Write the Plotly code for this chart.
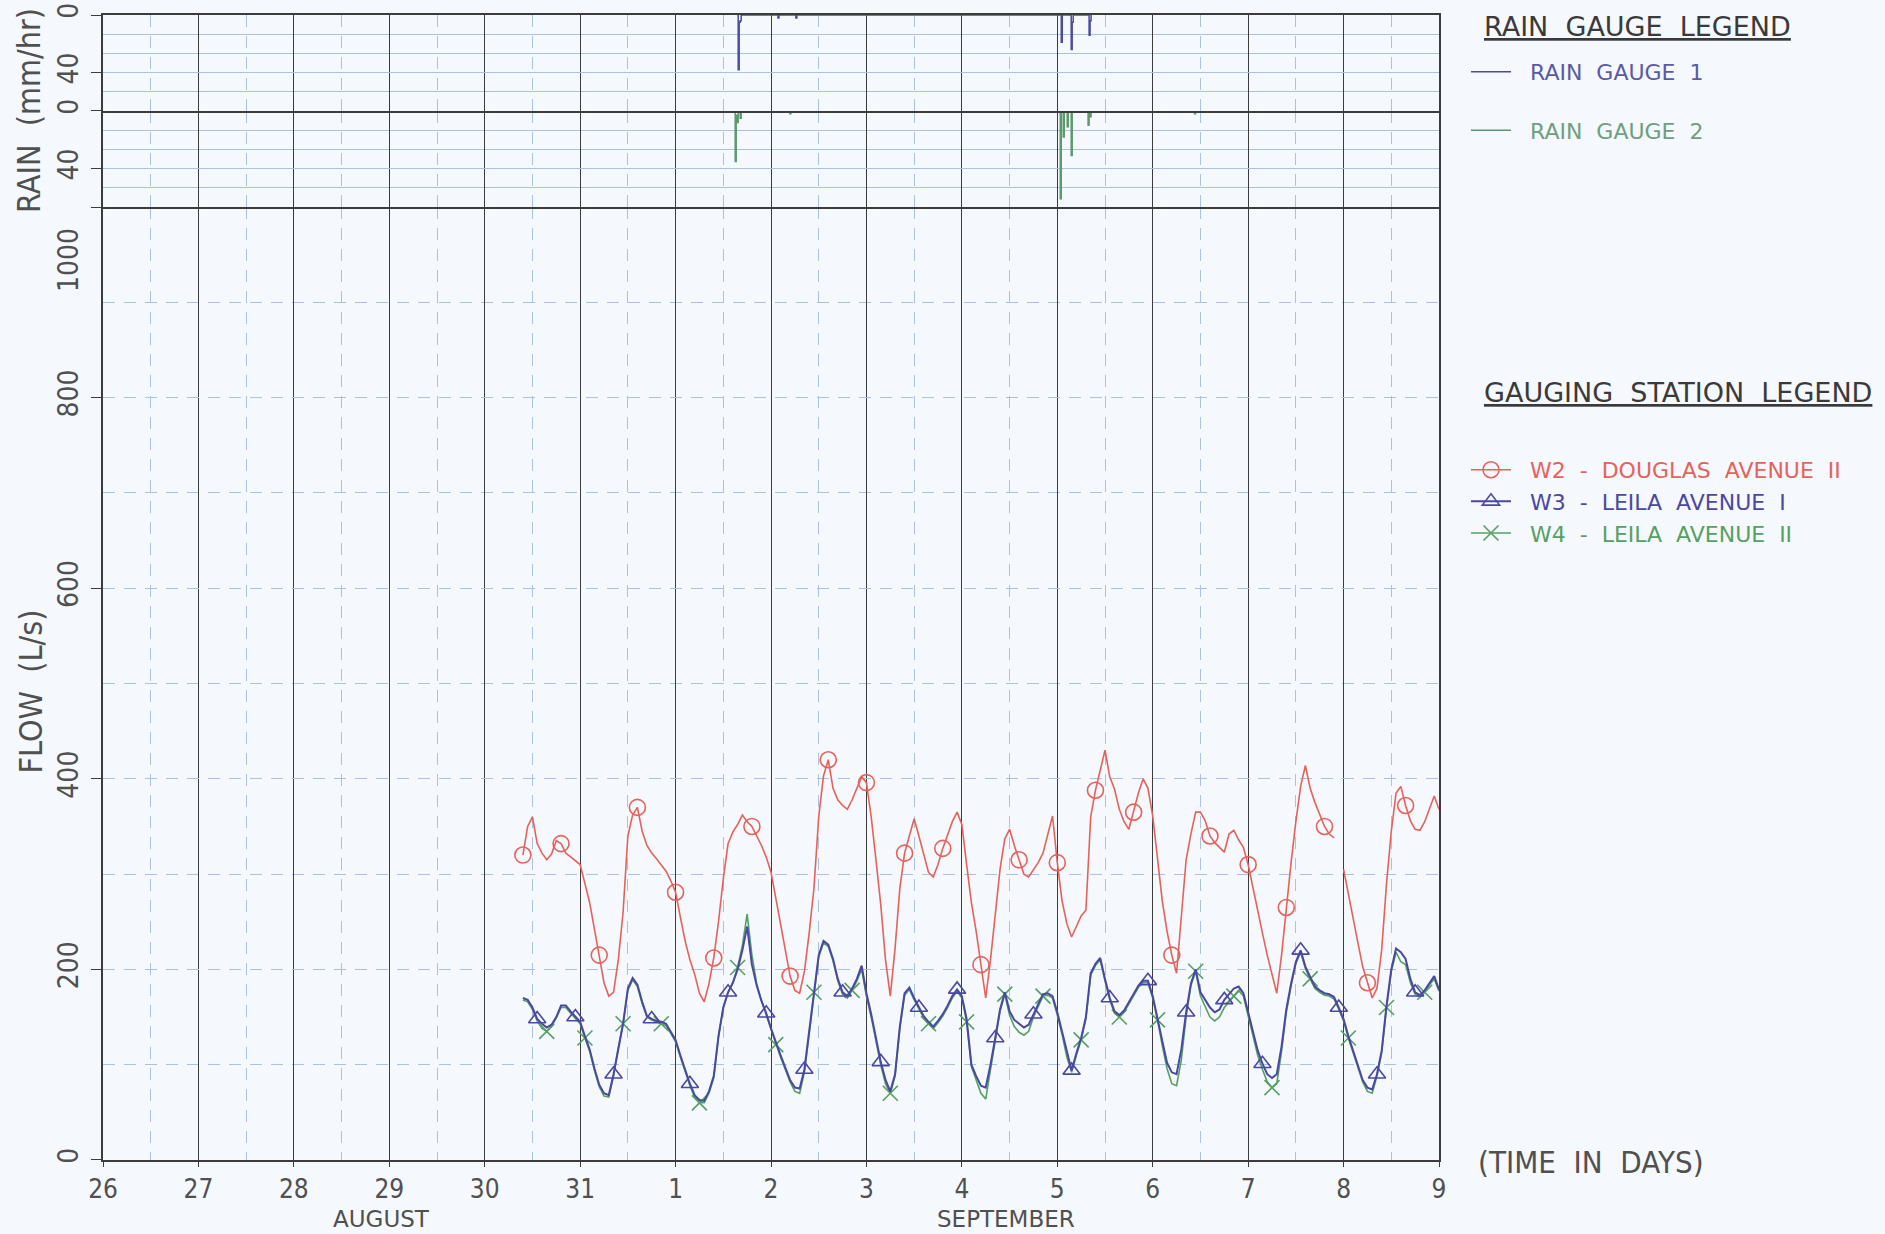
import plotly.graph_objects as go

# flow record: one reading every 72 minutes (0.05 day), starting Aug 30 09:36
FLOW_START = "1996-08-30 09:36"
FLOW_STEP_MS = 72 * 60 * 1000

# W2 - Douglas Avenue II (L/s), None = missing record
w2_flow = [
    320, 350, 360, 332, 322, 315, 321, 335, 332, 322, 318, 314,
    310, 290, 270, 242, 215, 186, 172, 176, 210, 260, 340, 362, 370, 345, 330, 322, 316, 310, 303, 293,
    281, 255, 230, 210, 195, 175, 166, 185, 212, 250, 295, 332, 344, 352, 362, 355, 350, 340, 330, 318,
    302, 275, 248, 220, 193, 178, 175, 198, 238, 285, 360, 403, 420, 390, 378, 372, 368, 378, 390, 402,
    396, 360, 315, 268, 210, 172, 222, 285, 322, 340, 358, 340, 320, 302, 297, 310, 327, 342, 355, 365,
    352, 310, 270, 240, 205, 170, 210, 260, 305, 337, 347, 330, 315, 300, 297, 305, 312, 322, 343, 361,
    312, 272, 248, 234, 245, 256, 262, 360, 388, 410, 430, 402, 389, 368, 355, 347, 365, 385, 400, 390,
    361, 315, 272, 240, 215, 196, 260, 315, 342, 365, 365, 356, 340, 333, 328, 323, 342, 346, 336, 328,
    310, 285, 263, 238, 215, 196, 175, 215, 265, 312, 355, 392, 414, 390, 375, 362, 350, 342, 338, None,
    305, 278, 252, 228, 203, 186, 170, 180, 221, 290, 345, 385, 392, 372, 356, 347, 346, 355, 368, 382,
    368,
]

# W3 - Leila Avenue I (L/s)
w3_flow = [
    170, 168, 160, 148, 143, 139, 142, 150, 162, 162, 156, 150,
    145, 130, 116, 96, 79, 70, 68, 90, 118, 143, 180, 191, 184, 166, 151, 148, 146, 145, 143, 135,
    126, 110, 94, 80, 68, 63, 62, 72, 88, 130, 160, 176, 186, 200, 220, 245, 205, 183, 167, 154,
    138, 123, 110, 97, 84, 76, 75, 95, 135, 178, 215, 230, 226, 211, 190, 176, 172, 180, 190, 204,
    175, 153, 128, 103, 84, 72, 90, 140, 175, 181, 170, 160, 151, 145, 140, 146, 153, 162, 172, 179,
    172, 148, 100, 88, 78, 76, 100, 128, 158, 176, 156, 147, 143, 139, 142, 153, 164, 174, 175, 172,
    155, 135, 112, 94, 112, 128, 150, 196, 206, 212, 190, 170, 156, 152, 157, 166, 175, 183, 188, 188,
    172, 150, 125, 102, 92, 90, 116, 155, 185, 200, 176, 168, 160, 155, 158, 168, 174, 180, 182, 175,
    155, 134, 115, 101, 90, 86, 90, 119, 158, 185, 208, 220, 203, 192, 182, 178, 175, 174, 171, 160,
    148, 130, 114, 98, 84, 76, 74, 90, 115, 162, 200, 222, 218, 211, 190, 176, 173, 178, 186, 193,
    179,
]

# W4 - Leila Avenue II (L/s)
w4_flow = [
    168, 166, 158, 146, 138, 135, 140, 149, 160, 160, 154, 148,
    143, 128, 114, 94, 77, 67, 66, 88, 118, 143, 178, 189, 182, 164, 150, 147, 145, 143, 141, 133,
    124, 108, 92, 78, 66, 60, 60, 70, 86, 130, 160, 176, 186, 202, 225, 258, 215, 185, 167, 152,
    136, 121, 108, 95, 82, 72, 70, 92, 133, 176, 213, 228, 224, 209, 188, 174, 170, 178, 188, 200,
    172, 150, 125, 100, 80, 70, 88, 138, 173, 179, 168, 158, 149, 143, 138, 144, 151, 160, 170, 177,
    170, 145, 98, 84, 70, 64, 95, 126, 156, 174, 152, 140, 134, 131, 135, 150, 162, 172, 173, 170,
    152, 132, 108, 92, 110, 126, 148, 194, 204, 210, 188, 168, 154, 150, 155, 164, 173, 181, 186, 186,
    170, 147, 120, 96, 80, 78, 105, 150, 183, 198, 172, 160, 150, 146, 150, 160, 166, 172, 178, 172,
    152, 130, 110, 95, 82, 76, 80, 114, 155, 183, 206, 218, 201, 190, 180, 176, 173, 172, 169, 158,
    146, 128, 112, 96, 82, 72, 70, 88, 113, 160, 198, 218, 208, 205, 186, 174, 171, 176, 184, 190,
    177,
]

# rain gauges, 15 minute intensities (mm/hr)
rain1_time = [
    "1996-09-01 15:30", "1996-09-01 15:45", "1996-09-01 16:00", "1996-09-01 16:15", "1996-09-01 16:30",
    "1996-09-02 01:30", "1996-09-02 01:45", "1996-09-02 02:00",
    "1996-09-02 06:00", "1996-09-02 06:15", "1996-09-02 06:30",
    "1996-09-05 00:45", "1996-09-05 01:00", "1996-09-05 01:15",
    "1996-09-05 03:15", "1996-09-05 03:30", "1996-09-05 03:45", "1996-09-05 04:00",
    "1996-09-05 08:00", "1996-09-05 08:15", "1996-09-05 08:30",
]
rain1_mmhr = [0, 38, 5, 4, 0,
              0, 2, 0,
              0, 2, 0,
              0, 19, 0,
              0, 24, 5, 0,
              14, 4, 0]

rain2_time = [
    "1996-09-01 14:45", "1996-09-01 15:00", "1996-09-01 15:15", "1996-09-01 15:30", "1996-09-01 15:45",
    "1996-09-01 16:15", "1996-09-01 16:30",
    "1996-09-02 04:45", "1996-09-02 05:00",
    "1996-09-05 00:30", "1996-09-05 00:45", "1996-09-05 01:00", "1996-09-05 01:30", "1996-09-05 01:45",
    "1996-09-05 02:30", "1996-09-05 02:45", "1996-09-05 03:30", "1996-09-05 03:45",
    "1996-09-05 07:45", "1996-09-05 08:00", "1996-09-05 08:15", "1996-09-05 08:30",
    "1996-09-06 10:30", "1996-09-06 10:45",
]
rain2_mmhr = [0, 35, 3, 8, 0,
              5, 0,
              2, 0,
              0, 61, 0, 18, 0,
              11, 0, 31, 0,
              10, 0, 4, 0,
              2, 0]

flow_ticks = [0, 200, 400, 600, 800, 1000]
flow_tick_text = ["0", "200", "400", "600", "800", ""]
rain_ticks = [0, 40]
rain_tick_text = ["0", "40"]

DARK = "#3c3c3c"
GRID = "#a9c2e2"
DASH = "12px,9px"
PAPER = "#f5f8fc"
RED = "#e5625b"
BLUE = "#4a48a2"
GREEN = "#55a063"
NARROW = "Liberation Sans Narrow, DejaVu Sans Condensed, Arial Narrow, sans-serif"
PLAIN = "DejaVu Sans, Verdana, sans-serif"
GAP = "\u00a0\u00a0"  # legend text sits a little away from its symbol

DAY_MS = 86400000
X_RANGE = ["1996-08-26", "1996-09-09"]

fig = go.Figure()

# rain hyetographs (drawn downward from 0)
fig.add_trace(go.Scatter(
    x=rain1_time, y=rain1_mmhr, xaxis="x3", yaxis="y3", mode="lines",
    line=dict(color="#4c4c9c", width=1.5, shape="hv"),
    name=f'{GAP}<span style="color:#5a5aa6">RAIN  GAUGE  1</span>',
    legend="legend", legendgroup="r1", hoverinfo="skip",
))
fig.add_trace(go.Scatter(
    x=rain2_time, y=rain2_mmhr, xaxis="x2", yaxis="y2", mode="lines",
    line=dict(color="#5b9a6c", width=1.5, shape="hv"),
    name=f'{GAP}<span style="color:#6f9e80">RAIN  GAUGE  2</span>',
    legend="legend", legendgroup="r2", hoverinfo="skip",
))

# gauging stations
fig.add_trace(go.Scatter(
    x0=FLOW_START, dx=FLOW_STEP_MS, y=w2_flow, mode="lines+markers",
    line=dict(color=RED, width=1.6), connectgaps=False,
    marker=dict(symbol="circle-open", size=16, color=RED, line=dict(width=1.6), maxdisplayed=25),
    name=f'{GAP}<span style="color:{RED}">W2  -  DOUGLAS  AVENUE  II</span>',
    legend="legend2", legendrank=1,
))
fig.add_trace(go.Scatter(
    x0=FLOW_START, dx=FLOW_STEP_MS, y=w4_flow, mode="lines+markers",
    line=dict(color=GREEN, width=1.6),
    marker=dict(symbol="x-thin-open", size=15, color=GREEN, line=dict(width=1.6, color=GREEN), maxdisplayed=25),
    name=f'{GAP}<span style="color:{GREEN}">W4  -  LEILA  AVENUE  II</span>',
    legend="legend2", legendrank=3,
))
fig.add_trace(go.Scatter(
    x0=FLOW_START, dx=FLOW_STEP_MS, y=w3_flow, mode="lines+markers",
    line=dict(color=BLUE, width=2),
    marker=dict(symbol="triangle-up-open", size=15, color=BLUE, line=dict(width=1.6), maxdisplayed=25),
    name=f'{GAP}<span style="color:{BLUE}">W3  -  LEILA  AVENUE  I</span>',
    legend="legend2", legendrank=2,
))

tick_font = dict(family=NARROW, size=28, color="#505050")
xtick_font = dict(family=NARROW, size=26, color="#505050")
day_minor = dict(dtick=DAY_MS / 2, tick0=X_RANGE[0], showgrid=True, gridcolor=GRID,
                 griddash=DASH, gridwidth=1, ticks="")
x_common = dict(type="date", range=X_RANGE, dtick=DAY_MS, tick0=X_RANGE[0], automargin=False,
                showgrid=True, gridcolor=DARK, gridwidth=1.2, minor=day_minor,
                showline=True, linecolor=DARK, linewidth=1.5, zeroline=False)

rain_axis = dict(range=[200 / 3, 0], tickmode="array", tickvals=rain_ticks, ticktext=rain_tick_text,
                 tickangle=-90, ticks="outside", ticklen=10, tickcolor=DARK, tickfont=tick_font,
                 ticklabelstandoff=2, automargin=False,
                 showgrid=True, gridcolor=GRID, gridwidth=1,
                 minor=dict(tick0=0, dtick=40 / 3, showgrid=True, gridcolor=GRID, gridwidth=1, ticks=""),
                 showline=True, linecolor=DARK, linewidth=1.5, zeroline=False)

FLOW_TOP = 0.8323
RAIN_SPLIT = 0.9162

fig.update_layout(
    width=1885, height=1234,
    margin=dict(l=103, r=446, t=15, b=74, autoexpand=False),
    paper_bgcolor=PAPER, plot_bgcolor=PAPER,
    font=dict(family=NARROW, color="#444444"),
    xaxis=dict(**x_common, anchor="y", domain=[0, 1], tickformat="%-d", ticks="outside",
               ticklen=5, tickcolor=DARK, tickfont=xtick_font, mirror=False),
    xaxis2=dict(**x_common, anchor="y2", matches="x", showticklabels=False, ticks="", mirror=False),
    xaxis3=dict(**x_common, anchor="y3", matches="x", showticklabels=False, ticks="", mirror=True),
    yaxis=dict(domain=[0, FLOW_TOP], range=[0, 1000], tickmode="array", tickvals=flow_ticks,
               ticktext=flow_tick_text, tickangle=-90, ticks="outside", ticklen=10, tickcolor=DARK,
               tickfont=tick_font, ticklabelstandoff=2, automargin=False,
               showgrid=True, gridcolor=GRID, griddash=DASH, gridwidth=1,
               minor=dict(tick0=0, dtick=100, showgrid=True, gridcolor=GRID, griddash=DASH,
                          gridwidth=1, ticks=""),
               showline=True, linecolor=DARK, linewidth=1.5, mirror=True, zeroline=False),
    yaxis2=dict(**rain_axis, domain=[FLOW_TOP, RAIN_SPLIT], anchor="x2", mirror=True),
    yaxis3=dict(**rain_axis, domain=[RAIN_SPLIT, 1], anchor="x3", mirror=True),
    legend=dict(x=1.0202, y=0.9686, xanchor="left", yanchor="top", bgcolor="rgba(0,0,0,0)",
                font=dict(family=PLAIN, size=22), tracegroupgap=27, itemwidth=40),
    legend2=dict(x=1.0202, y=0.621, xanchor="left", yanchor="top", bgcolor="rgba(0,0,0,0)",
                 font=dict(family=PLAIN, size=22), tracegroupgap=0, itemwidth=40),
    showlegend=True,
)

label_font = dict(family=NARROW, size=32, color="#505050")
month_font = dict(family=PLAIN, size=23, color="#505050")
title_font = dict(family=PLAIN, size=27, color="#3a3a3a")
center = dict(xanchor="center", yanchor="middle", showarrow=False)

fig.add_annotation(text="RAIN  (mm/hr)", xref="paper", yref="paper", x=0, xshift=-74,
                   y=RAIN_SPLIT, textangle=-90, font=label_font, **center)
fig.add_annotation(text="FLOW  (L/s)", xref="paper", yref="paper", x=0, xshift=-72,
                   y=FLOW_TOP / 2 - 0.007, textangle=-90, font=label_font, **center)
fig.add_annotation(text="1000", xref="paper", yref="y", x=0, xshift=-35, y=1000, yshift=-53,
                   textangle=-90, font=tick_font, **center)
fig.add_annotation(text="AUGUST", xref="x", yref="paper", x="1996-08-28 22:00", y=-0.0515,
                   font=month_font, **center)
fig.add_annotation(text="SEPTEMBER", xref="x", yref="paper", x="1996-09-04 11:00", y=-0.0515,
                   font=month_font, **center)
fig.add_annotation(text="(TIME  IN  DAYS)", xref="paper", yref="paper", x=1.0277, y=-0.002,
                   xanchor="left", yanchor="middle", showarrow=False,
                   font=dict(family=NARROW, size=31, color="#505050"))
fig.add_annotation(text="<u>RAIN  GAUGE  LEGEND</u>", xref="paper", yref="paper", x=1.0322, y=0.990,
                   xanchor="left", yanchor="middle", showarrow=False, font=title_font)
fig.add_annotation(text="<u>GAUGING  STATION  LEGEND</u>", xref="paper", yref="paper", x=1.0322, y=0.6707,
                   xanchor="left", yanchor="middle", showarrow=False, font=title_font)

# drop the page's default body margin so the figure fills the window exactly
fig.write_html("out.html", config={"displayModeBar": False},
               post_script=f"document.body.style.margin='0';"
                           f"document.body.style.background='{PAPER}';")
